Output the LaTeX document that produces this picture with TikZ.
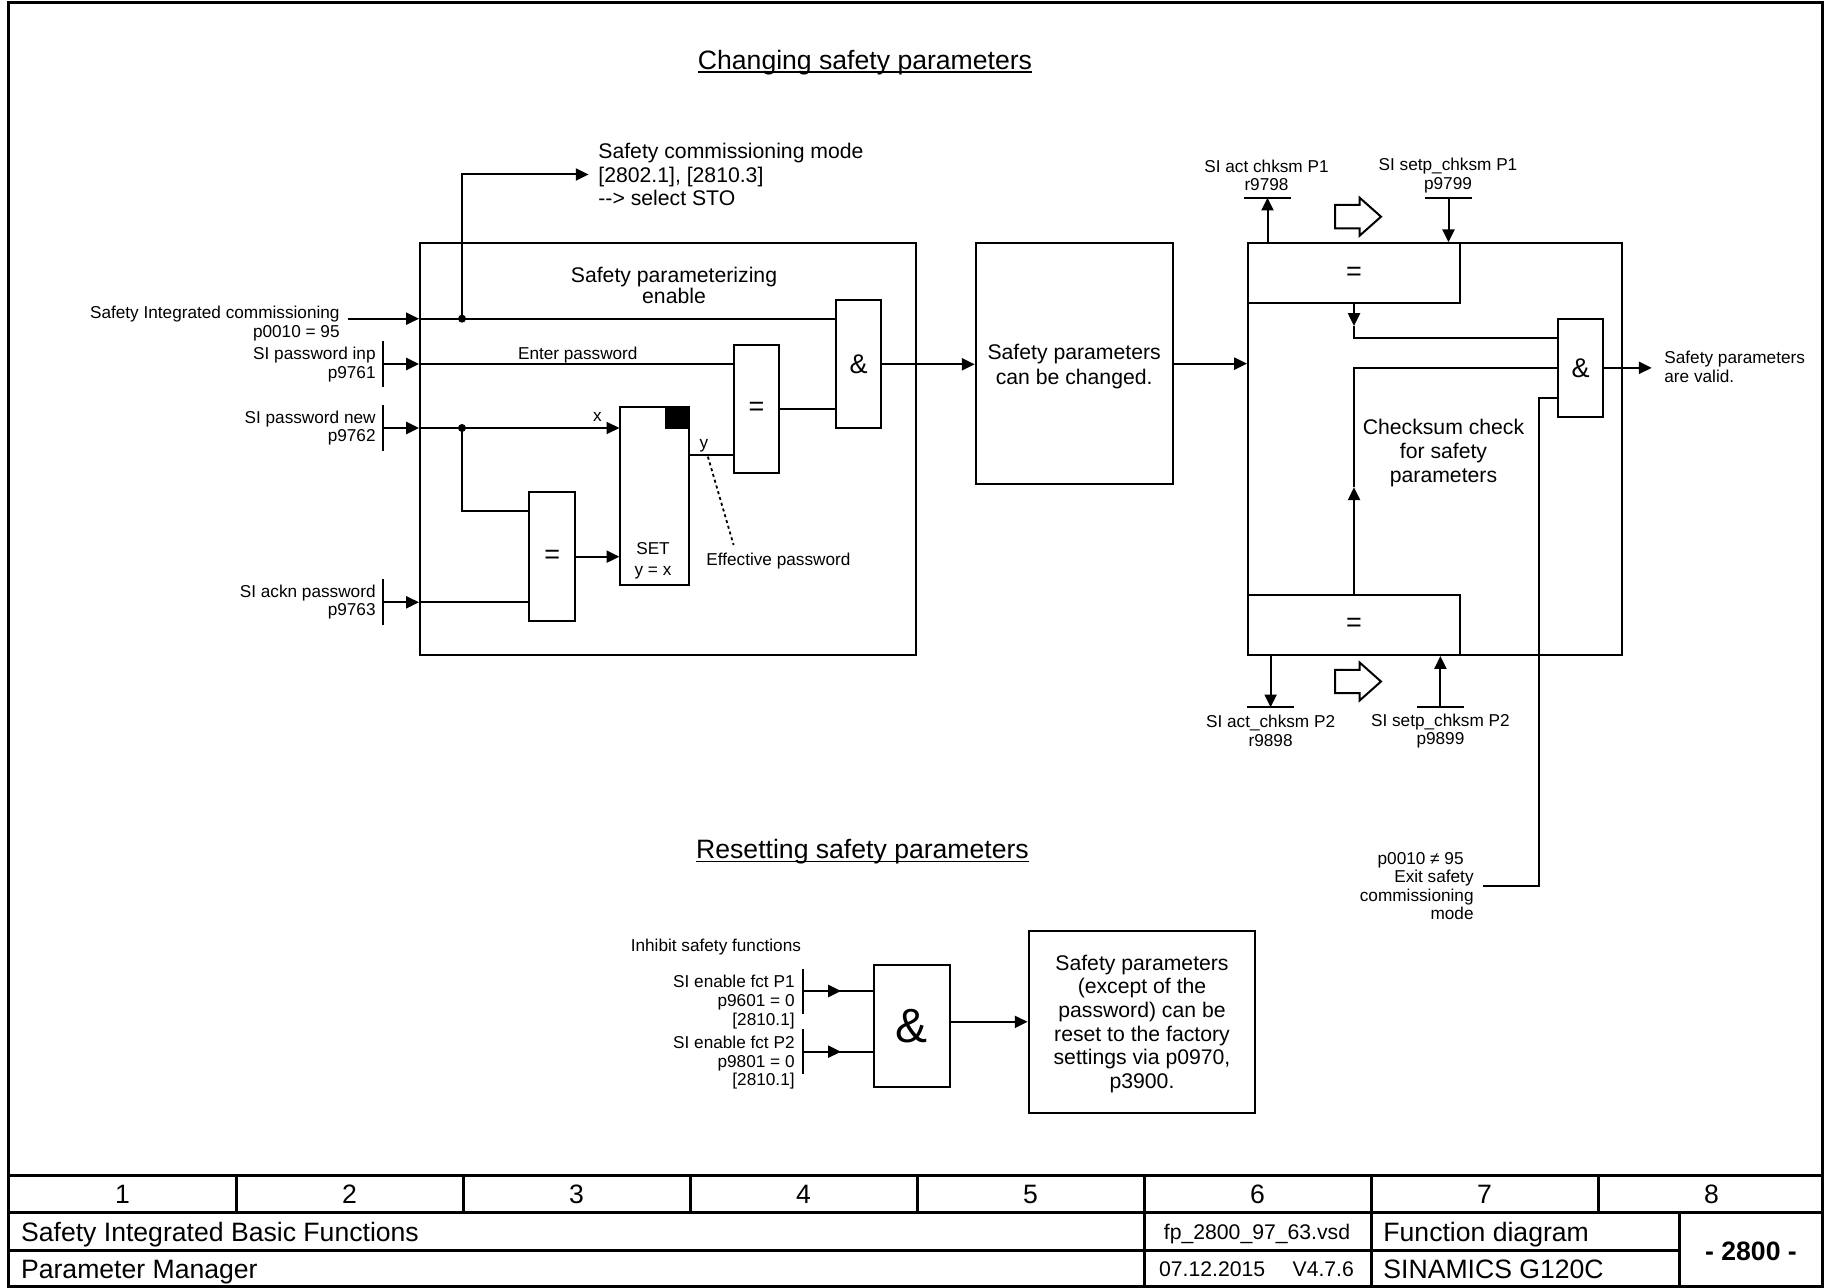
\documentclass[tikz,border=0pt]{standalone}
\usepackage{fontspec}
\setmainfont{Liberation Sans}
\usetikzlibrary{arrows.meta,positioning,fit,calc}
\newcommand\fsmall{\fontsize{8.6pt}{9.3pt}\selectfont}
\newcommand\fbig{\fontsize{10.6pt}{11.6pt}\selectfont}
\newcommand\fhead{\fontsize{13.3pt}{15pt}\selectfont}
\newcommand\fgate{\fontsize{13.5pt}{15pt}\selectfont}
\newcommand\famp{\fontsize{24pt}{26pt}\selectfont}
\tikzset{
  blk/.style   ={draw,line width=1pt,inner sep=0pt},
  gsym/.style  ={font=\fgate,inner sep=0pt},
  lbl/.style   ={font=\fsmall,inner sep=0pt},
  txt/.style   ={font=\fbig,inner sep=0pt,align=center},
  hdg/.style   ={font=\fhead,inner sep=0pt},
  sig/.style   ={-{Triangle[length=6.4pt,width=6pt]},line width=1pt},
  wire/.style  ={line width=1pt},
  frm/.style   ={line width=1.5pt},
  hollow/.style={draw,line width=1pt,fill=white,line join=miter},
}

\begin{document}
\begin{tikzpicture}[x=0.5pt,y=-0.5pt]
\useasboundingbox (0,0) rectangle (1825,1288);

% sheet frame and title block
\draw[frm] (8.5,2.5) rectangle (1822.5,1286.5);
\draw[frm] (8.5,1175) -- (1822.5,1175);
\draw[frm] (8.5,1212.7) -- (1822.5,1212.7);
\draw[frm] (8.5,1250) -- (1679.3,1250);
\foreach \x in {236,463,690,917,1598} \draw[frm] (\x,1175) -- (\x,1212.7);
\foreach \x in {1144,1371} \draw[frm] (\x,1175) -- (\x,1286.5);
\draw[frm] (1679.3,1212.7) -- (1679.3,1286.5);
\foreach \n in {1,...,8}
  \node[hdg,anchor=base] (col\n) at ({9+227*(\n-0.5)},1203.4) {\n};
\node[hdg,anchor=base west] (tb1) at (20.7,1241) {Safety Integrated Basic Functions};
\node[hdg,anchor=base west] (tb2) at (20.7,1278) {Parameter Manager};
\node[txt,anchor=base] (tbf) at (1257,1239) {fp\_2800\_97\_63.vsd};
\node[txt,anchor=base west] (tbd) at (1158.7,1276) {07.12.2015};
\node[txt,anchor=base east] (tbv) at (1354.3,1276) {V4.7.6};
\node[hdg,anchor=base west] (tbk) at (1383,1241) {Function diagram};
\node[hdg,anchor=base west] (tbp) at (1383,1278) {SINAMICS G120C};
\node[hdg,anchor=base,font=\fhead\bfseries] (tbn) at (1751,1260.5) {- 2800 -};

% headings
\node[hdg,anchor=base] (hchg) at (865,69.5) {Changing safety parameters};
\draw[line width=0.8pt] ([yshift=-1.2pt]hchg.base west) -- ([yshift=-1.2pt]hchg.base east);
\node[hdg,anchor=base] (hrst) at (862.5,858.5) {Resetting safety parameters};
\draw[line width=0.8pt] ([yshift=-1.4pt]hrst.base west) -- ([yshift=-1.4pt]hrst.base east);

% parameterizing enable
\node[blk,fit={(420,243.3) (915.5,655)}] (pe) {};
\node[txt,font={\fontsize{10.6pt}{10.6pt}\selectfont}] (petxt) at (674,285.5) {Safety parameterizing\\enable};
\node[blk,fit={(836,300.3) (881.4,428.3)}] (and1) {};
\node[blk,fit={(733.6,345) (779.3,473.3)}] (eq2) {};
\node[blk,fit={(529,492.3) (575.4,621)}] (eq3) {};
\node[blk,fit={(620.4,407.3) (689,585)}] (set) {};
\node[gsym] (and1s) at (and1.center) {\&};
\node[gsym] (eq2s) at (eq2.center) {=};
\node[gsym] (eq3s) at (eq3.center) {=};
\fill (665,407.3) rectangle (689,429);
\node[lbl,align=center,font={\fontsize{8.6pt}{10.5pt}\selectfont}] (settxt) at (653,561) {SET\\y = x};

\coordinate (inA) at (347.5,318.7);
\coordinate (inB) at (382.5,364);
\coordinate (inC) at (382.5,428);
\coordinate (inD) at (382.5,602.3);
\coordinate (jA) at (462,318.7);
\coordinate (jC) at (462,428);
\foreach \nd in {inB,inC,inD} \draw[wire] ([yshift=11.5pt]\nd) -- ([yshift=-11.5pt]\nd);
\node[lbl,align=right,anchor=east] (lA) at (340,323.5) {Safety Integrated commissioning\\p0010 = 95};
\node[lbl,align=right,anchor=east] (lB) at (376,364.5) {SI password inp\\p9761};
\node[lbl,align=right,anchor=east] (lC) at (376,428) {SI password new\\p9762};
\node[lbl,align=right,anchor=east] (lD) at (376,602) {SI ackn password\\p9763};

\node[txt,align=left,anchor=west] (mode) at (598,174.5)
  {Safety commissioning mode\\{}[2802.1], [2810.3]\\-{}-> select STO};
\draw[sig] (inA) -- (inA -| pe.west);
\draw[wire] (inA -| pe.west) -- (jA) -- (jA -| and1.west);
\draw[sig] (jA) |- ([xshift=-4.7pt]mode.west);

\draw[sig] (inB) -- (inB -| pe.west);
\draw[wire] (inB -| pe.west) -- (inB -| eq2.west);
\node[lbl,anchor=base] (lpw) at (577.8,360) {Enter password};

\draw[sig] (inC) -- (inC -| pe.west);
\draw[wire] (inC -| pe.west) -- (jC);
\draw[sig] (jC) -- (jC -| set.west);
\draw[wire] (jC) |- (eq3.west |- 0,511);
\node[lbl] (lx) at (597.5,417) {x};

\draw[sig] (inD) -- (inD -| pe.west);
\draw[wire] (inD -| pe.west) -- (inD -| eq3.west);
\draw[sig] (eq3.east) -- (eq3.east -| set.west);
\draw[wire] (set.east |- 0,454.7) -- (eq2.west |- 0,454.7);
\node[lbl] (ly) at (704,446) {y};
\draw[line width=0.9pt,dash pattern=on 1.5pt off 1.5pt] (707.9,456.7) -- (733.6,545);
\node[lbl,anchor=west] (leff) at (706,561.5) {Effective password};
\draw[wire] (eq2.east) -- (eq2.east -| and1.west);
\fill (jA) circle[radius=2pt];
\fill (jC) circle[radius=2pt];

% changed, then the checksum check
\node[blk,fit={(975.7,243.3) (1172.6,484)}] (chg) {};
\node[txt,font={\fontsize{10.6pt}{12.2pt}\selectfont}] (chgtxt) at ([yshift=-1.5pt]chg.center)
  {Safety parameters\\can be changed.};
\draw[sig] (and1.east) -- (and1.east -| chg.west);
\node[blk,fit={(1248,243.3) (1622,655)}] (cks) {};
\node[blk,fit={(1248,243.3) (1460,303.5)}] (eq1) {};
\node[blk,fit={(1248,594.5) (1460,655)}] (eq4) {};
\node[blk,fit={(1558,319) (1603.3,416.7)}] (and2) {};
\node[gsym] (eq1s) at (eq1.center) {=};
\node[gsym] (eq4s) at (eq4.center) {=};
\node[gsym] (and2s) at (and2.center) {\&};
\node[txt,font={\fontsize{10.6pt}{11.9pt}\selectfont}] (cktxt) at (1443.5,453) {Checksum check\\for safety\\parameters};
\draw[sig] (chg.east) -- (chg.east -| cks.west);

\coordinate (bA1) at (1267.5,197.7);
\coordinate (bS1) at (1448.5,197.7);
\coordinate (bA2) at (1270.6,707.3);
\coordinate (bS2) at (1440.4,707.3);
\foreach \nd in {bA1,bS1,bA2,bS2} \draw[wire] ([xshift=-11.6pt]\nd) -- ([xshift=11.6pt]\nd);
\draw[sig] (bA1 |- eq1.north) -- (bA1);
\draw[sig] (bS1) -- (bS1 |- eq1.north);
\draw[sig] (bA2 |- eq4.south) -- (bA2);
\draw[sig] (bS2) -- (bS2 |- eq4.south);
\node[lbl,align=center] (lA1) at (1266.5,175.5) {SI act chksm P1\\r9798};
\node[lbl,align=center] (lS1) at (1448,175.5) {SI setp\_chksm P1\\p9799};
\node[lbl,align=center] (lA2) at (1270.6,731) {SI act\_chksm P2\\r9898};
\node[lbl,align=center] (lS2) at (1440.4,731) {SI setp\_chksm P2\\p9899};
\foreach \yh in {216.7,681.5}
  \draw[hollow] (1335,\yh-11.7) -- (1359.6,\yh-11.7) -- (1359.6,\yh-19) -- (1381,\yh)
    -- (1359.6,\yh+19) -- (1359.6,\yh+11.7) -- (1335,\yh+11.7) -- cycle;

\draw[sig] (eq1.south) -- (eq1.south |- 0,326);
\draw[wire] (eq1.south |- 0,326) |- (and2.west |- 0,337.7);
\draw[sig] (eq4.north) -- (eq4.north |- 0,487.3);
\draw[wire] (eq4.north |- 0,487.3) |- (and2.west);
\coordinate (exit) at (1482.7,885.7);
\draw[wire] (exit) -| (1539.2,397.7) -- (and2.west |- 0,397.7);
\node[lbl,align=right,anchor=east] (lexit) at (1474,886)
  {p0010 ≠ 95\hspace*{5pt}\\Exit safety\\commissioning\\mode};
\coordinate (valid) at (1651.7,367.8);
\draw[sig] (and2.east) -- (and2.east -| valid);
\node[lbl,align=left,anchor=west] (lvalid) at (1664,366.7) {Safety parameters\\are valid.};

% resetting
\node[lbl,anchor=west] (linh) at (630.4,947) {Inhibit safety functions};
\coordinate (iA) at (803,991);
\coordinate (iB) at (803,1051.7);
\node[blk,fit={(873.7,965) (949.6,1086.7)}] (and3) {};
\node[font=\famp,inner sep=0pt] (and3s) at (and3.center) {\&};
\node[blk,fit={(1028.6,931) (1255.4,1112.7)}] (rst) {};
\node[txt,font={\fontsize{10.6pt}{11.8pt}\selectfont}] (rsttxt) at ([yshift=-1pt]rst.center)
  {Safety parameters\\(except of the\\password) can be\\reset to the factory\\settings via p0970,\\p3900.};
\foreach \nd in {iA,iB} {
  \draw[wire] ([yshift=11.25pt]\nd) -- ([yshift=-11.25pt]\nd);
  \draw[sig] (\nd) -- ++(19pt,0pt);
  \draw[wire] (\nd) -- (\nd -| and3.west);
}
\draw[sig] (rst.west -| and3.east) -- (rst.west);
\node[lbl,align=right,anchor=east] (lP1) at (795,1002) {SI enable fct P1\\p9601 = 0\\{}[2810.1]};
\node[lbl,align=right,anchor=east] (lP2) at (795,1062.8) {SI enable fct P2\\p9801 = 0\\{}[2810.1]};
\end{tikzpicture}
\end{document}
